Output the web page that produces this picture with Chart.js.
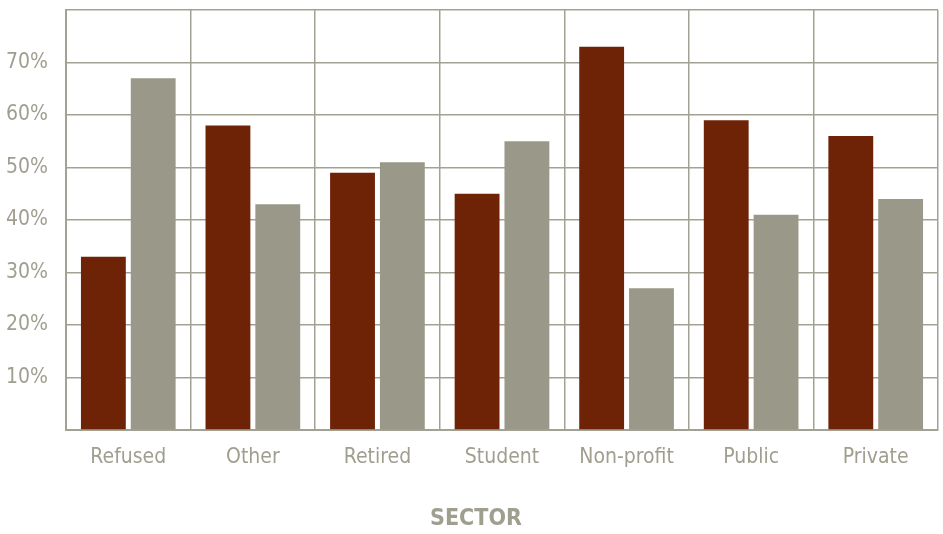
<!DOCTYPE html>
<html>
<head>
<meta charset="utf-8">
<script src="https://cdn.jsdelivr.net/npm/chart.js@4/dist/chart.umd.min.js"></script>
<style>
  html, body { margin: 0; padding: 0; background: #fff; }
  #wrap { width: 943px; height: 534px; }
</style>
</head>
<body>
<div id="wrap"><canvas id="barChart"></canvas></div>
<script>
// Share of respondents by sector
var sectors = ['Refused', 'Other', 'Retired', 'Student', 'Non-profit', 'Public', 'Private'];
var firstGroup = [33, 58, 49, 45, 73, 59, 56];
var secondGroup = [67, 43, 51, 55, 27, 41, 44];
var axisTitle = 'SECTOR';

var FONT = "'Liberation Sans Narrow', 'DejaVu Sans Condensed', 'Roboto', sans-serif";
var GRID = '#a3a194';
var TEXT = '#a09e8f';

// axis title sits a little left of the plot centre
var sectorTitle = {
    id: 'sectorTitle',
    afterDraw: function (chart) {
        var c = chart.ctx;
        c.save();
        c.font = 'bold 23px ' + FONT;
        c.fillStyle = TEXT;
        c.textAlign = 'center';
        c.textBaseline = 'middle';
        c.fillText(axisTitle, chart.chartArea.left + 410, chart.chartArea.bottom + 89);
        c.restore();
    }
};

var ctx = document.getElementById('barChart').getContext('2d');
var barChart = new Chart(ctx, {
    type: 'bar',
    data: {
        labels: sectors,
        datasets: [{
            data: firstGroup,
            backgroundColor: '#6e2307'
        }, {
            data: secondGroup,
            backgroundColor: '#9a9888'
        }]
    },
    options: {
        responsive: true,
        maintainAspectRatio: false,
        animation: false,
        layout: { padding: { top: 10, right: 5, left: 0, bottom: 0 } },
        plugins: {
            legend: { display: false },
            tooltip: { enabled: false }
        },
        scales: {
            x: {
                grid: { color: GRID, lineWidth: 1.5, offset: true, drawTicks: false },
                border: { color: GRID, width: 2 },
                ticks: { color: TEXT, font: { family: FONT, size: 21 }, padding: 15 },
                afterFit: function (axis) { axis.height = 104; }
            },
            y: {
                min: 0,
                max: 80,
                grid: { color: GRID, lineWidth: 1.5, drawTicks: false },
                border: { color: GRID, width: 2 },
                ticks: {
                    stepSize: 10,
                    color: TEXT,
                    font: { family: FONT, size: 21 },
                    padding: 18,
                    callback: function (v) {
                        return (v === 0 || v === 80) ? '' : v + '%';
                    }
                },
                afterFit: function (axis) {
                    axis.width = 66;
                    axis.paddingTop = 0;
                    axis.paddingBottom = 0;
                }
            }
        }
    },
    plugins: [sectorTitle]
});
</script>
</body>
</html>
